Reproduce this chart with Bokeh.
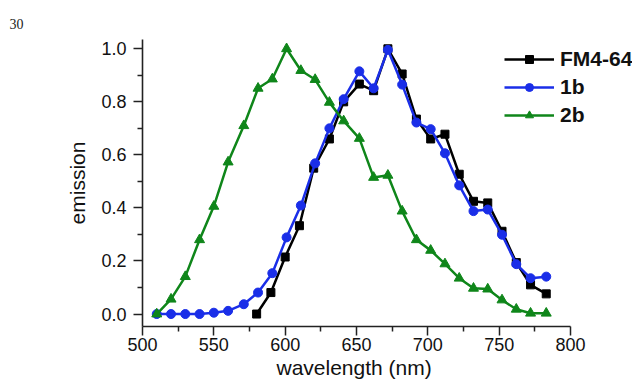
from bokeh.plotting import figure
from bokeh.models import Range1d, FixedTicker, NumeralTickFormatter, Legend, Title
from bokeh.embed import file_html
from bokeh.resources import INLINE

# ---- data ----
fm_x = [580, 590, 600, 610, 620, 631, 641, 652, 662, 672, 682, 692, 702, 712, 722, 732, 742, 752, 762, 772, 783]
fm_y = [0.0, 0.081, 0.215, 0.333, 0.55, 0.66, 0.80, 0.867, 0.842, 1.0, 0.905, 0.735, 0.66, 0.678, 0.527,
        0.425, 0.419, 0.312, 0.194, 0.11, 0.076]

b1_x = [510, 520, 530, 540, 550, 560, 571, 581, 591, 601, 611, 621, 631, 641, 652, 662, 672, 682, 692, 702,
        712, 722, 732, 742, 752, 762, 772, 783]
b1_y = [0.0, 0.0, 0.0, 0.0, 0.005, 0.012, 0.037, 0.081, 0.154, 0.289, 0.409, 0.568, 0.70, 0.81, 0.915, 0.851,
        0.996, 0.865, 0.722, 0.697, 0.606, 0.485, 0.388, 0.394, 0.299, 0.188, 0.135, 0.141]

b2_x = [510, 520, 530, 540, 550, 560, 571, 581, 591, 601, 611, 621, 631, 641, 652, 662, 672, 682, 692, 702,
        712, 722, 732, 742, 752, 762, 772, 783]
b2_y = [0.0, 0.056, 0.141, 0.28, 0.406, 0.573, 0.71, 0.851, 0.886, 1.0, 0.918, 0.884, 0.798, 0.728, 0.662,
        0.515, 0.523, 0.388, 0.28, 0.24, 0.189, 0.135, 0.097, 0.094, 0.053, 0.018, 0.003, 0.003]

series_names = ["FM4-64", "1b", "2b"]
x_major = [500, 550, 600, 650, 700, 750, 800]
x_minor = [525, 575, 625, 675, 725, 775]
y_major = [0.0, 0.2, 0.4, 0.6, 0.8, 1.0]
y_minor = [0.1, 0.3, 0.5, 0.7, 0.9]

BLACK = "#000000"
BLUE = "#1a2ee8"
GREEN = "#0f861a"
AX = "#222222"
FONT = "Liberation Sans"

W, H = 632, 381
LEFT, TOP, BOTTOM = 142, 39, 55
frame_w = W - LEFT
x_end = 500 + frame_w * 300.0 / 428.0   # axis drawn only from 500 to 800 (bounds)

p = figure(width=W, height=H, output_backend="svg", toolbar_location=None,
           x_range=Range1d(500, x_end), y_range=Range1d(-0.047, 1.035),
           min_border=0, min_border_left=LEFT, min_border_right=0,
           min_border_top=TOP, min_border_bottom=BOTTOM)
p.outline_line_color = None
p.grid.grid_line_color = None
p.background_fill_color = "white"
p.border_fill_color = "white"

r = []
r.append(p.line(fm_x, fm_y, line_color=BLACK, line_width=2.5))
r.append(p.scatter(fm_x, fm_y, marker="square", size=8, fill_color=BLACK, line_color=BLACK))
r.append(p.line(b1_x, b1_y, line_color=BLUE, line_width=2.5))
r.append(p.scatter(b1_x, b1_y, marker="circle", size=9, fill_color=BLUE, line_color=BLUE))
r.append(p.line(b2_x, b2_y, line_color=GREEN, line_width=2.5))
r.append(p.scatter(b2_x, b2_y, marker="triangle", size=10, fill_color=GREEN, line_color=GREEN))

# axes
xa = p.xaxis[0]
ya = p.yaxis[0]
xa.ticker = FixedTicker(ticks=x_major, minor_ticks=x_minor)
ya.ticker = FixedTicker(ticks=y_major, minor_ticks=y_minor)
ya.formatter = NumeralTickFormatter(format="0.0")
xa.bounds = (500, 800)
for ax in (xa, ya):
    ax.axis_line_width = 1.6
    ax.axis_line_color = AX
    ax.major_tick_line_color = AX
    ax.minor_tick_line_color = AX
    ax.major_tick_line_width = 1.5
    ax.minor_tick_line_width = 1.5
    ax.major_tick_out = 9
    ax.major_tick_in = 0
    ax.minor_tick_out = 5
    ax.minor_tick_in = 0
    ax.major_label_text_font = FONT
    ax.major_label_text_font_size = "18px"
    ax.major_label_text_color = "#111111"
ya.major_label_standoff = 7
xa.major_label_standoff = 2
ya.axis_label = "emission"
ya.axis_label_text_font = FONT
ya.axis_label_text_font_size = "21px"
ya.axis_label_text_font_style = "normal"
ya.axis_label_text_color = "#111111"
ya.axis_label_standoff = 9

# x-axis title (as a below title so it can be positioned)
xt = Title(text="wavelength (nm)", align="left", offset=134, standoff=0,
           text_font=FONT, text_font_size="21px", text_font_style="normal",
           text_color="#111111")
p.add_layout(xt, "below")

# small text at top-left
tt = Title(text="30", align="left", offset=-133, standoff=22,
           text_font="Liberation Serif", text_font_size="14px", text_font_style="normal",
           text_color="#222222")
p.add_layout(tt, "above")

legend = Legend(items=[(series_names[0], [r[0], r[1]]),
                       (series_names[1], [r[2], r[3]]),
                       (series_names[2], [r[4], r[5]])],
                location=(362, 199), orientation="vertical",
                glyph_width=50, glyph_height=20, label_height=20, spacing=4,
                label_standoff=6, padding=0, margin=0,
                border_line_color=None, background_fill_alpha=0,
                label_text_font=FONT, label_text_font_size="21px",
                label_text_font_style="bold", label_text_color="#111111")
p.add_layout(legend, "center")

open("out.html", "w").write(file_html(p, INLINE))
